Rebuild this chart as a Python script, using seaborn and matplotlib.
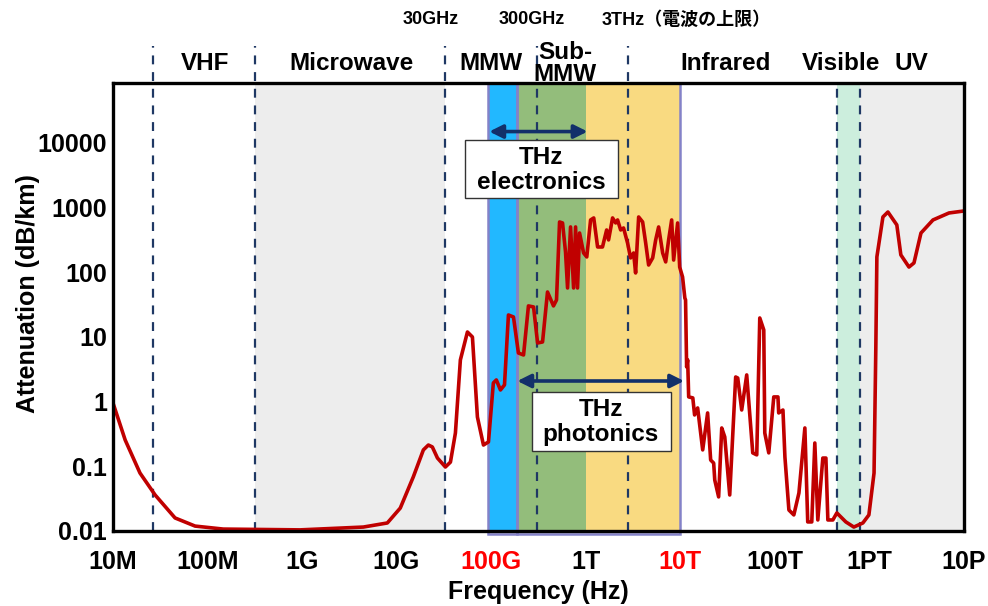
import matplotlib
matplotlib.use("Agg")
import matplotlib.pyplot as plt
import matplotlib.transforms as mtransforms
from matplotlib.patches import Rectangle
import pandas as pd
import seaborn as sns

# Atmospheric attenuation spectrum (frequency in Hz, attenuation in dB/km)
freq_hz = [
    1.0e7, 1.36e7, 1.95e7, 2.82e7, 4.58e7, 7.46e7, 1.48e8, 9.6e8, 4.48e9, 8.03e9,
    1.10e10, 1.51e10, 1.93e10, 2.18e10, 2.40e10, 2.72e10, 3.30e10, 3.73e10, 4.21e10, 4.75e10,
    5.64e10, 6.37e10, 7.19e10, 8.33e10, 9.41e10, 1.06e11, 1.14e11, 1.26e11, 1.39e11, 1.53e11,
    1.73e11, 1.95e11, 2.21e11, 2.49e11, 2.82e11, 3.11e11, 3.51e11, 3.96e11, 4.58e11, 4.93e11,
    5.31e11, 5.71e11, 6.14e11, 6.45e11, 6.94e11, 7.47e11, 7.84e11, 8.22e11, 8.64e11, 9.53e11,
    1.03e12, 1.13e12, 1.22e12, 1.34e12, 1.51e12, 1.67e12, 1.75e12, 1.93e12, 2.08e12, 2.18e12,
    2.35e12, 2.52e12, 2.78e12, 2.99e12, 3.22e12, 3.38e12, 3.64e12, 4.01e12, 4.32e12, 4.64e12,
    5.12e12, 5.51e12, 5.92e12, 6.53e12, 7.03e12, 7.55e12, 8.13e12, 8.53e12, 9.40e12, 9.88e12,
    1.06e13, 1.12e13, 1.14e13, 1.17e13, 1.20e13, 1.23e13, 1.36e13, 1.42e13, 1.53e13, 1.73e13,
    1.95e13, 2.10e13, 2.26e13, 2.32e13, 2.55e13, 2.75e13, 2.96e13, 3.34e13, 3.86e13, 4.06e13,
    4.47e13, 5.05e13, 5.85e13, 6.45e13, 6.94e13, 7.65e13, 7.84e13, 8.64e13, 9.76e13, 1.08e14,
    1.10e14, 1.22e14, 1.28e14, 1.41e14, 1.59e14, 1.80e14, 2.08e14, 2.23e14, 2.46e14, 2.65e14,
    2.85e14, 3.22e14, 3.47e14, 3.64e14, 4.11e14, 4.53e14, 5.64e14, 6.85e14, 8.53e14, 9.88e14,
    1.12e15, 1.17e15, 1.20e15, 1.39e15, 1.57e15, 1.95e15, 2.15e15, 2.62e15, 2.96e15, 3.51e15,
    4.70e15, 6.94e15, 1.0e16,
]
atten_db_km = [
    1.0, 0.255, 0.0787, 0.036, 0.0159, 0.0119, 0.0107, 0.0104, 0.0115, 0.0133,
    0.0226, 0.0684, 0.179, 0.213, 0.199, 0.134, 0.0975, 0.116, 0.327, 4.40,
    11.9, 9.95, 0.578, 0.213, 0.238, 1.94, 2.16, 1.51, 1.81, 21.8,
    20.3, 5.64, 5.25, 30.1, 29.0, 8.05, 8.34, 49.4, 30.1, 37.2,
    597, 576, 205, 57.0, 500, 57.0, 500, 57.0, 403, 198,
    172, 641, 689, 245, 245, 449, 315, 689, 576, 641,
    449, 482, 282, 166, 198, 97.3, 713, 597, 282, 129,
    166, 315, 500, 198, 144, 315, 641, 154, 576, 120,
    84.3, 39.9, 37.2, 3.43, 4.40, 1.18, 1.14, 0.621, 0.797, 0.179,
    0.667, 0.125, 0.112, 0.0614, 0.0336, 0.391, 0.284, 0.036, 2.40, 2.31,
    0.741, 2.58, 0.161, 0.150, 19.6, 12.8, 0.327, 0.161, 1.18, 1.18,
    0.667, 0.741, 0.139, 0.0211, 0.0177, 0.0387, 0.391, 0.0138, 0.0138, 0.229,
    0.0148, 0.134, 0.134, 0.0148, 0.0148, 0.019, 0.0138, 0.0115, 0.0133, 0.0177,
    0.0787, 6.98, 172, 713, 851, 537, 185, 120, 139, 403,
    641, 822, 883,
]

x_ticks = [1e7, 1e8, 1e9, 1e10, 1e11, 1e12, 1e13, 1e14, 1e15, 1e16]
x_tick_labels = ["10M", "100M", "1G", "10G", "100G", "1T", "10T", "100T", "1PT", "10P"]
highlighted_ticks = ["100G", "10T"]
y_ticks = [0.01, 0.1, 1, 10, 100, 1000, 10000]
y_tick_labels = ["0.01", "0.1", "1", "10", "100", "1000", "10000"]

# Spectrum regions
grey_bands = [(3.2e8, 3.3e10), (8.0e14, 1.0e16)]
thz_bands = [(9.4e10, 1.9e11, "#22B8FF"), (1.9e11, 1.0e12, "#93BD7B"), (1.0e12, 1.0e13, "#F9DA81")]
visible_band = (4.5e14, 8.0e14, "#CCEEDD")
band_dividers = [2.7e7, 3.2e8, 3.3e10, 3.1e11, 2.8e12]
visible_dividers = [4.5e14, 8.0e14]

region_names = ["VHF", "Microwave", "MMW", "Sub-\nMMW", "Infrared", "Visible", "UV"]
region_centres = [9.5e7, 3.34e9, 1.01e11, 6.1e11, 3.03e13, 5.0e14, 2.75e15]
boundary_names = ["30GHz", "300GHz", "3THz（電波の上限）"]
boundary_pos = [2.29e10, 2.7e11, 1.48e12]
boundary_align = ["center", "center", "left"]

NAVY = "#1F3864"
RED = "#C00000"
EDGE = "#8482C8"

sns.set_theme(style="white")
plt.rcParams["font.family"] = ["Liberation Sans", "Noto Sans CJK JP", "DejaVu Sans"]
plt.rcParams["font.weight"] = "bold"
plt.rcParams["text.color"] = "black"
plt.rcParams["axes.labelcolor"] = "black"
plt.rcParams["xtick.color"] = "black"
plt.rcParams["ytick.color"] = "black"

fig = plt.figure(figsize=(9.88, 6.06), dpi=100)
ax = fig.add_axes([0.1139, 0.1238, 0.8618, 0.7393])
ax.set_xscale("log")
ax.set_yscale("log")
ax.set_xlim(1e7, 1e16)
ax.set_ylim(0.01, 8.4e4)

for lo, hi in grey_bands:
    ax.axvspan(lo, hi, color="#EDEDED", lw=0, zorder=0)
for lo, hi, c in thz_bands:
    ax.axvspan(lo, hi, color=c, lw=0, zorder=0.5)
ax.axvspan(visible_band[0], visible_band[1], color=visible_band[2], lw=0, zorder=0.5)

# outlines of the THz source windows
blend = mtransforms.blended_transform_factory(ax.transData, ax.transAxes)
for lo, hi in [(thz_bands[0][0], thz_bands[0][1]), (thz_bands[1][0], thz_bands[2][1])]:
    ax.add_patch(Rectangle((lo, -0.006), hi - lo, 1.006, transform=blend, fill=False,
                           ec=EDGE, lw=1.8, zorder=0.8, clip_on=False))

for f in band_dividers:
    ax.plot([f, f], [0, 1.083], transform=blend, color=NAVY, lw=1.6,
            ls=(0, (4, 3.5)), clip_on=False, zorder=1)
for f in visible_dividers:
    ax.plot([f, f], [0, 1], transform=blend, color=NAVY, lw=1.6,
            ls=(0, (4, 3.5)), zorder=1)

df = pd.DataFrame({"freq": freq_hz, "atten": atten_db_km})
sns.lineplot(data=df, x="freq", y="atten", ax=ax, color=RED, lw=2.6,
             estimator=None, sort=False, zorder=3)

# THz electronics / photonics ranges
arrow = dict(arrowstyle="<|-|>", color="#12306A", lw=2.6, mutation_scale=20,
             shrinkA=0, shrinkB=0)
ax.annotate("", xy=(1.05e12, 1.49e4), xytext=(9.6e10, 1.49e4), arrowprops=arrow, zorder=4)
ax.annotate("", xy=(1.1e13, 2.08), xytext=(1.9e11, 2.08), arrowprops=arrow, zorder=4)

ax.add_patch(Rectangle((5.37e10, 1403), 2.18e12 - 5.37e10, 1.10e4 - 1403,
                       fc="white", ec="#333333", lw=1.0, zorder=4))
ax.text(3.38e11, 3850, "THz\nelectronics", ha="center", va="center", fontsize=17.5,
        fontweight="bold", linespacing=1.12, zorder=5)
ax.add_patch(Rectangle((2.69e11, 0.172), 7.93e12 - 2.69e11, 1.41 - 0.172,
                       fc="white", ec="#333333", lw=1.0, zorder=4))
ax.text(1.45e12, 0.48, "THz\nphotonics", ha="center", va="center", fontsize=17.5,
        fontweight="bold", linespacing=1.12, zorder=5)

for name, xc in zip(region_names, region_centres):
    ax.text(xc, 1.043, name, transform=blend, ha="center", va="center",
            fontsize=17.5, fontweight="bold", linespacing=0.95)
for name, xc, ha in zip(boundary_names, boundary_pos, boundary_align):
    ax.text(xc, 1.141, name, transform=blend, ha=ha, va="center",
            fontsize=13, fontweight="bold")

ax.set_xticks(x_ticks)
ax.set_xticklabels(x_tick_labels)
ax.minorticks_off()
ax.set_yticks(y_ticks)
ax.set_yticklabels(y_tick_labels)
ax.tick_params(axis="x", direction="out", length=8, width=2.2, pad=6, labelsize=18)
ax.tick_params(axis="y", direction="in", length=8, width=2.2, pad=4, labelsize=18)
for lab in ax.get_xticklabels() + ax.get_yticklabels():
    lab.set_fontweight("bold")
for lab in ax.get_xticklabels():
    if lab.get_text() in highlighted_ticks:
        lab.set_color("#FF0000")

ax.set_xlabel("Frequency (Hz)", fontsize=18, fontweight="bold")
ax.set_ylabel("Attenuation (dB/km)", fontsize=18, fontweight="bold")
ax.xaxis.set_label_coords(0.5, -0.11)
ax.yaxis.set_label_coords(-0.085, 0.53)

for sp in ax.spines.values():
    sp.set_visible(True)
    sp.set_color("black")
    sp.set_linewidth(2.4)
    sp.set_zorder(6)

fig.savefig("out.png", dpi=100, facecolor="white")
